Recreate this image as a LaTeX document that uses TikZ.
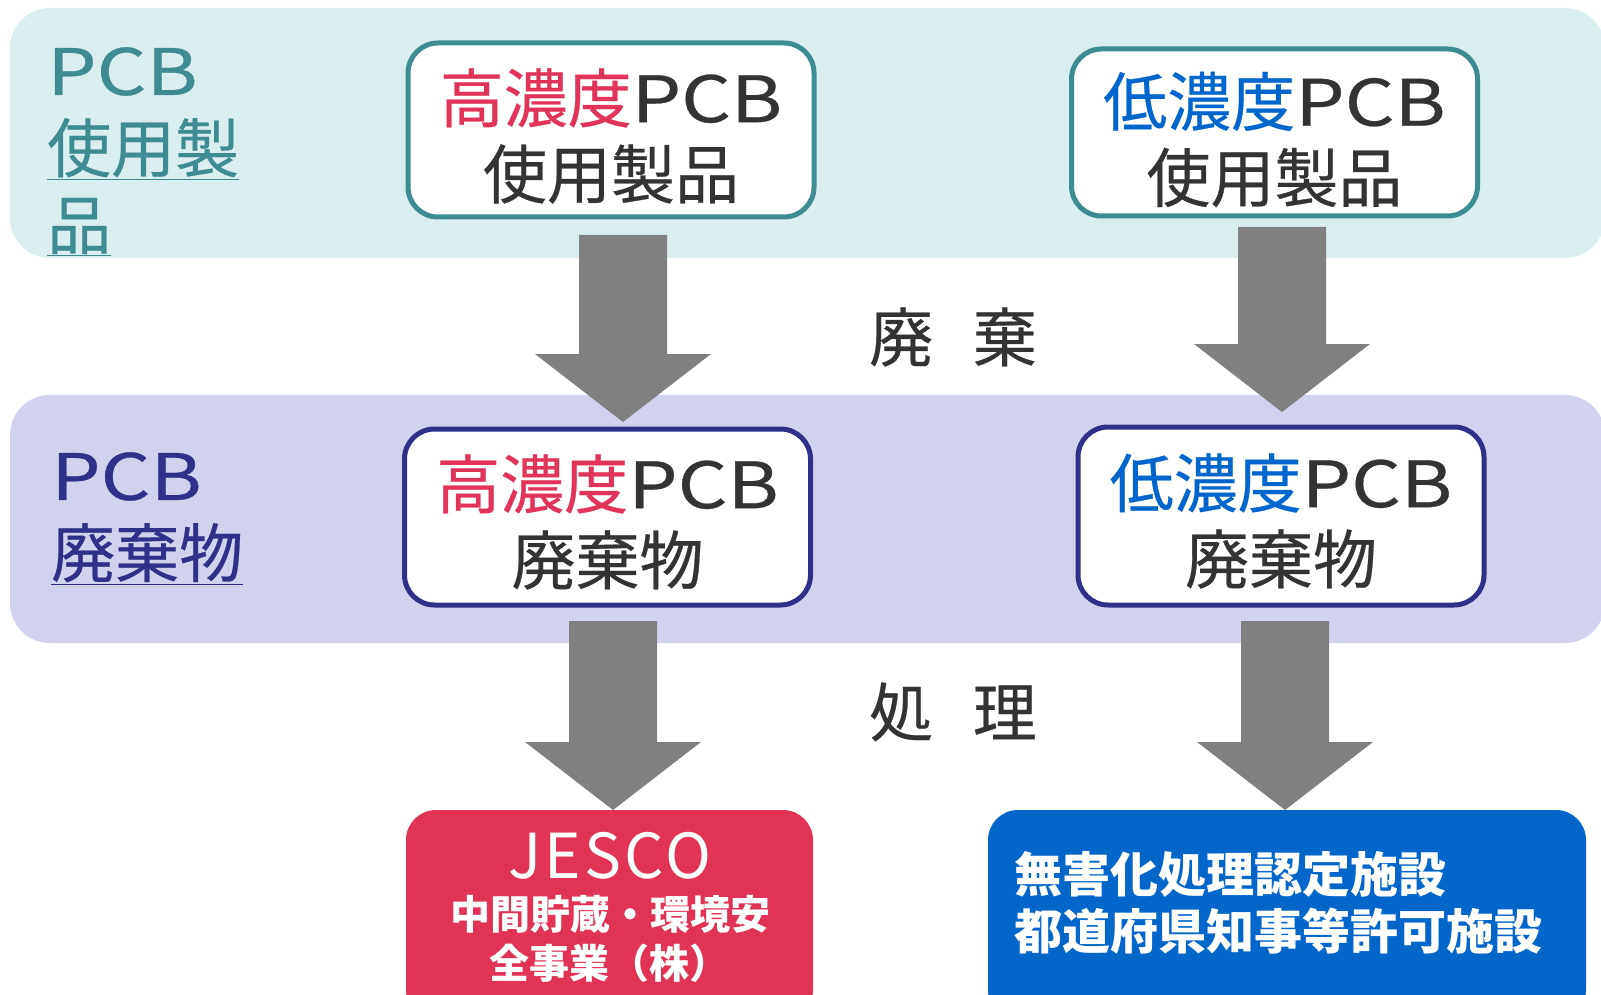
\documentclass[tikz,border=0pt]{standalone}
\usepackage{graphicx}
\usepackage{fontspec}
\setmainfont{Noto Sans CJK JP}
\newfontfamily\medfont[FakeBold=0.4]{Noto Sans CJK JP}
\newfontfamily\jescofont[LetterSpace=5]{Noto Sans CJK JP}
\usetikzlibrary{calc}
\definecolor{bandA}{HTML}{DAEDEF}
\definecolor{bandB}{HTML}{D0D2EE}
\definecolor{tealc}{HTML}{3D8C91}
\definecolor{navyc}{HTML}{2E3089}
\definecolor{crim}{HTML}{E0345A}
\definecolor{crimfill}{HTML}{E03355}
\definecolor{bluec}{HTML}{0066CC}
\definecolor{bluefill}{HTML}{0566C9}
\definecolor{grayc}{HTML}{808080}
\definecolor{darkc}{HTML}{333333}
\newcommand{\PCB}{\scalebox{1.22}[1]{PCB}}
\newcommand{\blockarrow}[2]{%
  \fill[grayc] ($(#1)+(-44,0)$) -- ($(#1)+(44,0)$) -- ($(#2)+(44,-68)$) -- ($(#2)+(88,-68)$)
    -- (#2) -- ($(#2)+(-88,-68)$) -- ($(#2)+(-44,-68)$) -- cycle;}
\begin{document}
\begin{tikzpicture}[x=1pt,y=-1pt,
  whitebox/.style={draw, fill=white, line width=5pt, rounded corners=30pt, inner sep=0pt,
    minimum width=406pt},
  boxtext/.style={inner sep=0pt, align=center, text=darkc, font=\medfont\fontsize{64}{76}\selectfont},
  solidbox/.style={rounded corners=30pt, inner sep=0pt, minimum width=407pt, minimum height=210pt},
  lbl/.style={inner sep=0pt, align=left, font=\medfont\fontsize{64}{77}\selectfont},
  mid/.style={inner sep=0pt, text=darkc, font=\medfont\fontsize{64}{76}\selectfont},
  whitetxt/.style={inner sep=0pt, text=white}
]
\useasboundingbox (0,0) rectangle (1601,995);
% bands
\fill[bandA, rounded corners=40pt] (10,8) rectangle (1605,258);
\fill[bandB, rounded corners=40pt] (10,395) rectangle (1605,643);
% left labels
\node[lbl, text=tealc, anchor=north west] (lab1) at (47,47) {\PCB\\\underline{使用製}\\\underline{品}};
\node[lbl, text=navyc, anchor=north west] (lab2) at (51,452) {\PCB\\\underline{廃棄物}};
% boxes
\node[whitebox, draw=tealc, minimum height=174pt] (b1) at (611,130) {};
\node[boxtext] (b1t) at ($(b1.center)+(0,6)$) {\textcolor{crim}{高濃度}\PCB\\使用製品};
\node[whitebox, draw=tealc, minimum height=167pt] (b2) at (1274.5,132.5) {};
\node[boxtext] (b2t) at ($(b2.center)+(0,7)$) {\textcolor{bluec}{低濃度}\PCB\\使用製品};
\node[whitebox, draw=navyc, minimum height=176pt] (b3) at (607.5,517) {};
\node[boxtext] (b3t) at ($(b3.center)+(0,5)$) {\textcolor{crim}{高濃度}\PCB\\廃棄物};
\node[whitebox, draw=navyc, minimum height=178pt] (b4) at (1281,516) {};
\node[boxtext] (b4t) at ($(b4.center)+(0,5)$) {\textcolor{bluec}{低濃度}\PCB\\廃棄物};
\node[solidbox, fill=crimfill] (b5) at (609.5,915) {};
\node[solidbox, fill=bluefill, minimum width=598pt] (b6) at (1287,915) {};
\node[whitetxt, font=\jescofont\fontsize{62}{62}\selectfont] (t5a) at (610,856) {JESCO};
\node[whitetxt, font=\bfseries\fontsize{40}{49}\selectfont] (t5b) at (610,914) {中間貯蔵・環境安};
\node[whitetxt, font=\bfseries\fontsize{40}{49}\selectfont] (t5c) at (609,963) {全事業（株）};
\node[whitetxt, align=left, anchor=west, font=\bfseries\fontsize{48}{57}\selectfont] (t6) at (1014,903)
  {無害化処理認定施設\\都道府県知事等許可施設};
% middle labels
\node[mid] (haiki) at (953,337) {廃\hspace{0.62em}棄};
\node[mid] (shori) at (953,712) {処\hspace{0.62em}理};
% arrows
\coordinate (a1s) at (623,235); \coordinate (a1t) at (623,422);
\coordinate (a2s) at (1282,227); \coordinate (a2t) at (1282,412);
\coordinate (a3s) at (613,621); \coordinate (a3t) at (613,810);
\coordinate (a4s) at (1285,621); \coordinate (a4t) at (1285,810);
\blockarrow{a1s}{a1t}
\blockarrow{a2s}{a2t}
\blockarrow{a3s}{a3t}
\blockarrow{a4s}{a4t}
\end{tikzpicture}
\end{document}
